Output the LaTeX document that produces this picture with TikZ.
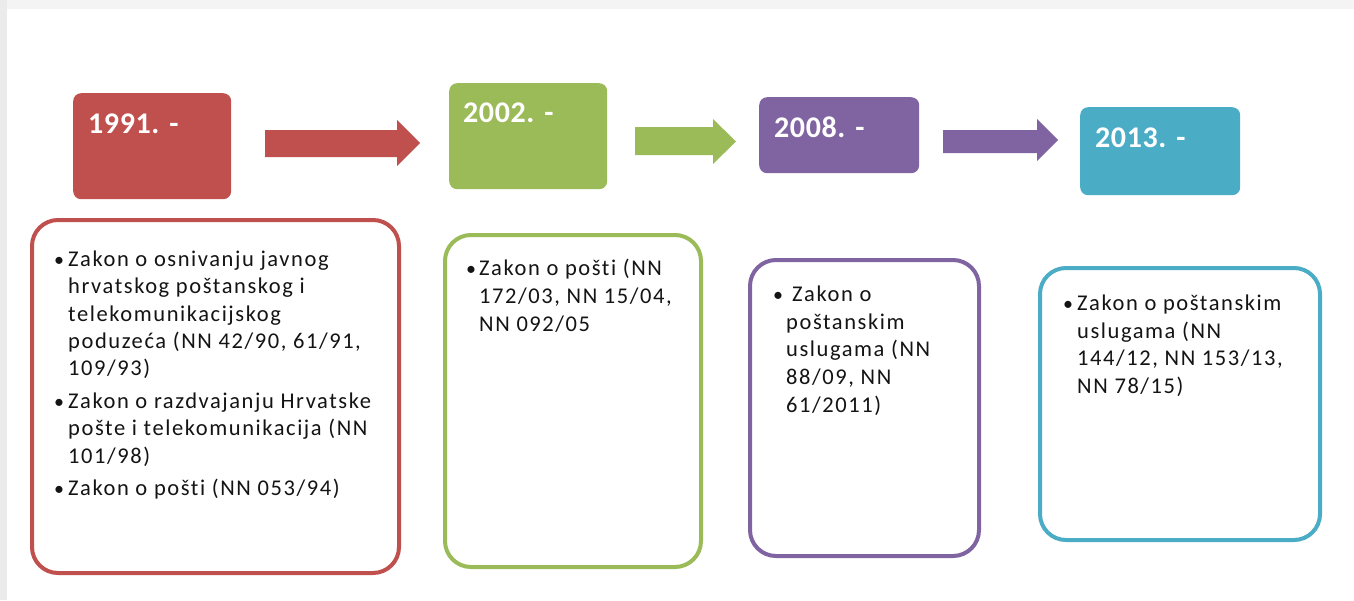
\documentclass[tikz,border=0pt]{standalone}
\usepackage{fontspec}
\setmainfont{Carlito}
\newfontfamily\lawfont[LetterSpace=7,Ligatures=NoCommon]{Carlito}
\newfontfamily\yearfont[LetterSpace=2]{Carlito}
\definecolor{cred}{HTML}{C0504D}
\definecolor{cgreen}{HTML}{9BBB59}
\definecolor{cpurple}{HTML}{8064A2}
\definecolor{cteal}{HTML}{4BACC6}
\definecolor{bgedge}{HTML}{EBEBEB}
\definecolor{bgtop}{HTML}{F4F4F4}
\definecolor{ink}{HTML}{141414}
\begin{document}
\begin{tikzpicture}[x=1pt,y=-1pt,
  yearbox/.style={fill=#1, draw=none, rounded corners=8pt, anchor=north west, inner sep=0},
  lawbox/.style={draw=#1, line width=4pt, fill=white, rounded corners=26pt},
  yeartxt/.style={anchor=base west, inner sep=0, text=white, font=\yearfont\fontsize{30}{36}\selectfont\bfseries},
  lawtxt/.style={anchor=base west, inner sep=0, text=ink, font=\lawfont\fontsize{22.5}{27}\selectfont},
  bullet/.style={anchor=base west, inner sep=0, text=ink, font=\fontsize{20}{27}\selectfont},
  blockarrow/.style={fill=#1, draw=none}
]
\useasboundingbox (0,0) rectangle (1354,600);
% background
\fill[bgtop] (0,0) rectangle (1354,600);
\fill[bgedge] (0,0) rectangle (7,600);
\fill[white] (7,9) rectangle (1354,600);

% year boxes
\node[yearbox=cred, minimum width=158pt, minimum height=106pt] (y1) at (73,93) {};
\node[yearbox=cgreen, minimum width=158pt, minimum height=106pt] (y2) at (449,83) {};
\node[yearbox=cpurple, minimum width=160pt, minimum height=76pt] (y3) at (759,97) {};
\node[yearbox=cteal, minimum width=160pt, minimum height=88pt] (y4) at (1080,107) {};

\node[yeartxt] (t1) at (88,133) {1991. -};
\node[yeartxt] (t2) at (463,122) {2002. -};
\node[yeartxt] (t3) at (774,137) {2008. -};
\node[yeartxt] (t4) at (1095,147) {2013. -};

% block arrows
\fill[blockarrow=cred] (265,130) -- (397,130) -- (397,120) -- (420,143) -- (397,166) -- (397,157) -- (265,157) -- cycle;
\fill[blockarrow=cgreen] (635,127) -- (713,127) -- (713,119) -- (736,141.5) -- (713,164) -- (713,155) -- (635,155) -- cycle;
\fill[blockarrow=cpurple] (943,130) -- (1037,130) -- (1037,119) -- (1058,140) -- (1037,161) -- (1037,153) -- (943,153) -- cycle;

% law boxes
\draw[lawbox=cred] (32,220) rectangle (399,573);
\draw[lawbox=cgreen] (445,235) rectangle (701,567);
\draw[lawbox=cpurple] (750,260) rectangle (979,556);
\draw[lawbox=cteal] (1040,268) rectangle (1320,540);

% red texts
\node[bullet] (b11) at (54,266) {•};
\node[lawtxt] (r1) at (68,266) {Zakon o osnivanju javnog};
\node[lawtxt] (r2) at (68,293) {hrvatskog poštanskog i};
\node[lawtxt] (r3) at (68,321) {telekomunikacijskog};
\node[lawtxt] (r4) at (68,348) {poduzeća (NN 42/90, 61/91,};
\node[lawtxt] (r5) at (68,375) {109/93)};
\node[bullet] (b12) at (54,408) {•};
\node[lawtxt] (r6) at (68,408) {Zakon o razdvajanju Hrvatske};
\node[lawtxt] (r7) at (68,435) {pošte i telekomunikacija (NN};
\node[lawtxt] (r8) at (68,463) {101/98)};
\node[bullet] (b13) at (54,495) {•};
\node[lawtxt] (r9) at (68,495) {Zakon o pošti (NN 053/94)};

% green texts
\node[bullet] (b21) at (466,275) {•};
\node[lawtxt] (g1) at (479,275) {Zakon o pošti (NN};
\node[lawtxt] (g2) at (479,303) {172/03, NN 15/04,};
\node[lawtxt] (g3) at (479,331) {NN 092/05};

% purple texts
\node[bullet] (b31) at (773,301) {•};
\node[lawtxt] (p1) at (792,301) {Zakon o};
\node[lawtxt] (p2) at (786,329) {poštanskim};
\node[lawtxt] (p3) at (786,356) {uslugama (NN};
\node[lawtxt] (p4) at (786,384) {88/09, NN};
\node[lawtxt] (p5) at (786,412) {61/2011)};

% teal texts
\node[bullet] (b41) at (1063,310) {•};
\node[lawtxt] (c1) at (1077,310) {Zakon o poštanskim};
\node[lawtxt] (c2) at (1077,338) {uslugama (NN};
\node[lawtxt] (c3) at (1077,365) {144/12, NN 153/13,};
\node[lawtxt] (c4) at (1077,393) {NN 78/15)};
\end{tikzpicture}
\end{document}
